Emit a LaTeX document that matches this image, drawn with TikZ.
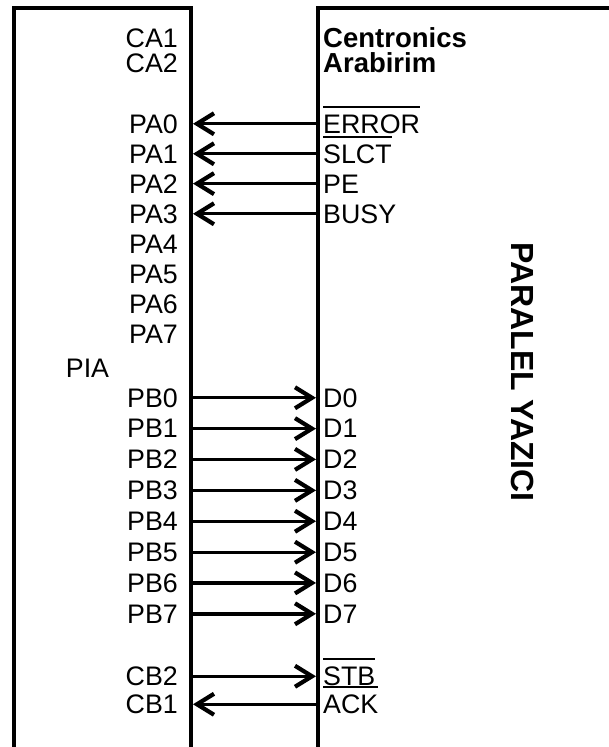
\documentclass[tikz,border=0pt]{standalone}
\usepackage{fontspec}
\setmainfont{Liberation Sans}
\usetikzlibrary{arrows.meta,positioning}

\newcommand{\ovl}[1]{\vbox{\hrule height 1.8pt\kern 6.5pt\hbox{#1}}}

\begin{document}
\begin{tikzpicture}[x=1pt,y=-1pt,
  every node/.style={font=\fontsize{26.8}{30}\selectfont,inner sep=0pt},
  chip/.style={draw,line width=4pt,anchor=north west,outer sep=2pt},
  pinl/.style={anchor=base east},
  pinr/.style={anchor=base west},
  hdr/.style={anchor=base west,font=\fontsize{27.5}{30}\selectfont\bfseries},
  sig/.style={line width=3.4pt,-{Straight Barb[length=17pt,width=21pt,line width=0.8pt 1]}}]

\useasboundingbox (0,0) rectangle (609,747);
\clip (0,0) rectangle (609,747);
\def\lx{178}
\def\rx{323}

% --- 1. the two boxes
\node[chip,minimum width=177pt,minimum height=780pt] (piabox) at (12,6) {};
\node[chip,minimum width=340pt,minimum height=780pt] (yazici) at (316,6) {};
\node[anchor=base] (pia) at (87.5,377) {PIA};
\node[font=\fontsize{32}{34}\selectfont\bfseries,rotate=-90] (title) at (523,372) {PARALEL YAZICI};

% --- 2. control lines A and header
\node[pinl] (ca1) at (\lx,47) {CA1};
\node[pinl] (ca2) at (\lx,72) {CA2};
\node[hdr] (cen) at (\rx,47) {Centronics};
\node[hdr] (arb) at (\rx,72) {Arabirim};

% --- 3. port A (status in)
\foreach \i in {0,...,7}
  \node[pinl] (pa\i) at (\lx,{133+30*\i}) {PA\i};
\foreach \i/\txt in {0/\ovl{ERROR},1/\ovl{SLCT},2/PE,3/BUSY}{
  \node[pinr] (st\i) at (\rx,{133+30*\i}) {\txt};
  \draw[sig] (pa\i -| yazici.west) -- (pa\i -| piabox.east);
}

% --- 4. port B (data out)
\foreach \i in {0,...,7}{
  \node[pinl] (pb\i) at (\lx,{407+30.86*\i}) {PB\i};
  \node[pinr] (d\i) at (\rx,{407+30.86*\i}) {D\i};
  \draw[sig] (pb\i -| piabox.east) -- (pb\i -| yazici.west);
}

% --- 5. handshake
\node[pinl] (cb2) at (\lx,685.5) {CB2};
\node[pinr] (stb) at (\rx,685.5) {\ovl{STB}};
\node[pinl] (cb1) at (\lx,713.5) {CB1};
\node[pinr] (ack) at (\rx,713.5) {\ovl{ACK}};
\draw[sig] (cb2 -| piabox.east) -- (cb2 -| yazici.west);
\draw[sig] (cb1 -| yazici.west) -- (cb1 -| piabox.east);
\end{tikzpicture}
\end{document}
